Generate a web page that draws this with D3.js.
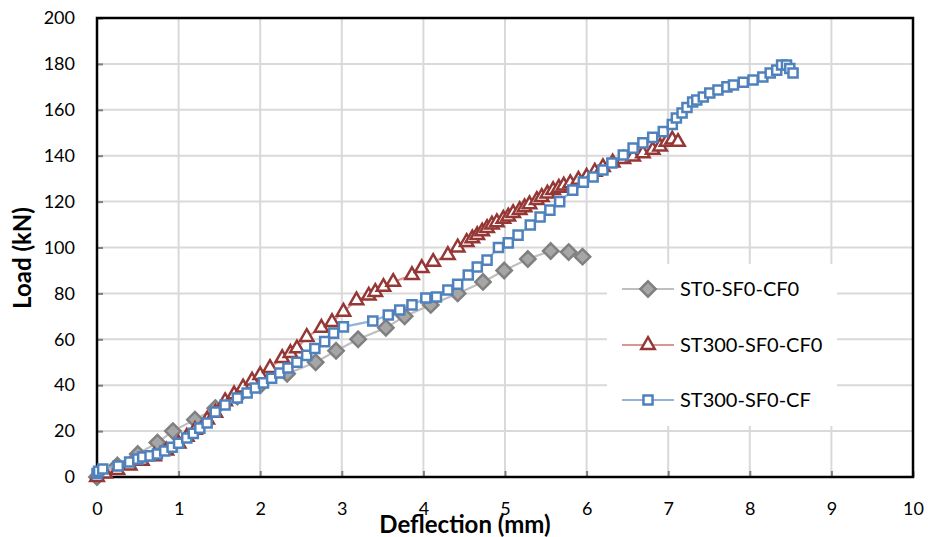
<!DOCTYPE html>
<html><head><meta charset="utf-8">
<script src="https://cdn.jsdelivr.net/npm/d3@7"></script>
<style>body{margin:0;background:#fff}svg{display:block}text{font-family:Lato,"Open Sans",sans-serif}</style>
</head><body>
<svg id="c" width="928" height="537"></svg>
<script>
const xTicks=[0,1,2,3,4,5,6,7,8,9,10];
const yTicks=[0,20,40,60,80,100,120,140,160,180,200];
const seriesNames=["ST0-SF0-CF0","ST300-SF0-CF0","ST300-SF0-CF"];
const st0X=[0,0.25,0.5,0.74,0.93,1.2,1.45,1.72,2.0,2.33,2.68,2.93,3.2,3.54,3.77,4.09,4.42,4.73,4.99,5.28,5.56,5.78,5.95];
const st0Y=[0,5,10,15,20,25,30,35,40,45,50,55,60,65,70,75,80,85,90,95,98.5,98,96];
const st300X=[0,0.1,0.25,0.4,0.55,0.7,0.85,1.0,1.1,1.2,1.35,1.45,1.57,1.68,1.79,1.9,2.0,2.12,2.27,2.37,2.45,2.57,2.75,2.88,3.02,3.18,3.33,3.41,3.51,3.63,3.86,3.98,4.12,4.3,4.42,4.53,4.6,4.66,4.72,4.78,4.84,4.9,4.98,5.04,5.1,5.18,5.24,5.3,5.39,5.45,5.52,5.59,5.66,5.72,5.8,5.9,6.0,6.1,6.2,6.32,6.45,6.57,6.69,6.81,6.9,6.98,7.05,7.12];
const st300Y=[0,1.5,3,5,7,9,11.5,14.5,17.5,20.5,25,28,33,36,39,42,44.4,47.5,51.8,54,56,61,65,67.5,72,77,79,80.6,82.8,85,88,91,93.7,96.7,100,102.4,104,105.4,107,108.5,110,111,112.5,113.5,115,116.3,117.5,118.8,120.7,122,123.5,125,126,127,128,129.5,130.8,133,135,137,138.5,139.6,141,142.5,144,146,147,146];
const st300cfX=[0,0.02,0.07,0.26,0.4,0.5,0.56,0.65,0.74,0.83,0.92,1.0,1.1,1.18,1.26,1.35,1.45,1.57,1.72,1.84,1.94,2.04,2.14,2.24,2.34,2.45,2.57,2.67,2.79,2.9,3.02,3.38,3.57,3.71,3.86,4.03,4.16,4.3,4.42,4.55,4.66,4.78,4.92,5.04,5.16,5.31,5.43,5.55,5.67,5.83,5.96,6.08,6.2,6.31,6.45,6.57,6.69,6.81,6.94,7.05,7.1,7.17,7.23,7.3,7.35,7.43,7.51,7.61,7.72,7.8,7.92,8.04,8.16,8.25,8.33,8.39,8.45,8.49,8.53];
const st300cfY=[1.5,2.5,3.5,4.8,6.5,7.8,8.7,9.2,10,11.3,13,14.7,17,19,21.3,23.5,28.3,31.4,34.4,36.6,38.8,41,43,45.3,47.5,50,53,56,59,62.7,65.4,68,70.6,72.8,75,78,78.4,81.5,84,88,91.5,94.5,100,102,105.4,109.8,113.3,116.3,120,125,128.5,130.7,133.8,136.8,140.3,143.3,145.6,148,150.5,153.6,156.4,158.6,161,163.4,164.3,165.6,167.3,168.6,170,170.8,172,173,174.3,176,177.3,179.5,179.5,178,176];

const svg=d3.select("#c");
const L=97,R=913,T=18,B=477;
const x=d3.scaleLinear().domain([0,10]).range([L,R]);
const y=d3.scaleLinear().domain([0,200]).range([B,T]);

const g=svg.append("g");
g.selectAll("line.v").data(xTicks.slice(1,-1)).join("line")
 .attr("x1",d=>x(d)).attr("x2",d=>x(d)).attr("y1",T).attr("y2",B)
 .attr("stroke","#d9d9d9").attr("stroke-width",2);
g.selectAll("line.h").data(yTicks.slice(1,-1)).join("line")
 .attr("y1",d=>y(d)).attr("y2",d=>y(d)).attr("x1",L).attr("x2",R)
 .attr("stroke","#d9d9d9").attr("stroke-width",2);

const xa=svg.append("g").attr("transform",`translate(0,${B})`)
 .call(d3.axisBottom(x).tickValues(xTicks).tickSize(-6).tickPadding(25).tickFormat(d3.format("d")));
const ya=svg.append("g").attr("transform",`translate(${L},0)`)
 .call(d3.axisLeft(y).tickValues(yTicks).tickSize(-6).tickPadding(22).tickFormat(d3.format("d")));
[xa,ya].forEach(a=>{a.select(".domain").remove();
 a.selectAll(".tick line").attr("stroke","#7f7f7f").attr("stroke-width",2);
 a.selectAll(".tick text").attr("font-size",18).attr("fill","#000").attr("font-family","Lato,sans-serif");});
svg.append("rect").attr("x",L).attr("y",T).attr("width",R-L).attr("height",B-T)
 .attr("fill","none").attr("stroke","#000").attr("stroke-width",2.5);

const series=[
 {xs:st0X,ys:st0Y,line:"#bfbfbf",stroke:"#808080",fill:"#a6a6a6",sym:d3.symbolDiamond2,size:150},
 {xs:st300X,ys:st300Y,line:"#d99694",stroke:"#953735",fill:"#fff",sym:d3.symbolTriangle2,size:130},
 {xs:st300cfX,ys:st300cfY,line:"#95b3d7",stroke:"#4f81bd",fill:"#fff",sym:d3.symbolSquare2,size:105}
];
const plot=svg.append("g");
series.forEach(s=>{
 const pts=s.xs.map((v,i)=>[v,s.ys[i]]);
 plot.append("path").datum(pts).attr("fill","none").attr("stroke",s.line).attr("stroke-width",2.2)
  .attr("d",d3.line().x(d=>x(d[0])).y(d=>y(d[1])));
 plot.selectAll(null).data(pts).join("path")
  .attr("transform",d=>`translate(${x(d[0])},${y(d[1])})`)
  .attr("d",d3.symbol(s.sym,s.size)).attr("fill",s.fill).attr("stroke",s.stroke).attr("stroke-width",2.5);
});

const lg=svg.append("g");
lg.append("rect").attr("x",607).attr("y",264).attr("width",230).attr("height",162).attr("fill","#fff");
const ly=[289,345,400];
series.forEach((s,i)=>{
 lg.append("line").attr("x1",622).attr("x2",674).attr("y1",ly[i]).attr("y2",ly[i]).attr("stroke",s.line).attr("stroke-width",2.2);
 lg.append("path").attr("transform",`translate(648,${ly[i]})`).attr("d",d3.symbol(s.sym,s.size)).attr("fill",s.fill).attr("stroke",s.stroke).attr("stroke-width",2.5);
 lg.append("text").attr("x",680).attr("y",ly[i]+7).attr("font-size",20).text(seriesNames[i]);
});

svg.append("text").attr("x",465).attr("y",533).attr("text-anchor","middle").attr("font-size",24).attr("font-weight","bold").text("Deflection (mm)");
svg.append("text").attr("transform","translate(31,258) rotate(-90)").attr("text-anchor","middle").attr("font-size",24).attr("font-weight","bold").text("Load (kN)");
</script>
</body></html>
